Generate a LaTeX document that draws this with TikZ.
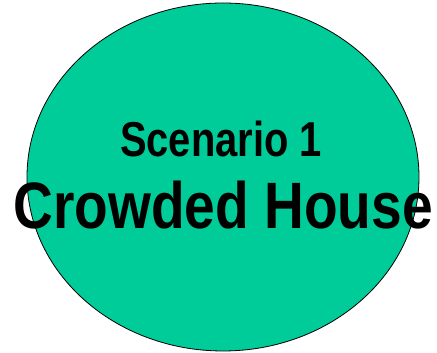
\documentclass[tikz,border=0pt]{standalone}
\usepackage{fontspec}
\setmainfont{Liberation Sans}
\usetikzlibrary{shapes.geometric}
\definecolor{scenario-green}{HTML}{00CC99}
\tikzset{
    scenario-oval/.style = {draw=black, fill=scenario-green, ellipse, line width=0.8pt, minimum width=392pt, minimum height=348pt, inner sep=0pt},
    scenario-title/.style = {anchor=base, inner sep=0pt, font=\bfseries\fontsize{49}{49}\selectfont, xscale=0.815},
    scenario-name/.style = {anchor=base, inner sep=0pt, font=\bfseries\fontsize{65.6}{65.6}\selectfont, xscale=0.84},
}
\begin{document}
\begin{tikzpicture}[x=1pt,y=1pt]
\useasboundingbox (0,0) rectangle (437,353);
\node [scenario-oval] (oval) at (223,176) {};
\node [scenario-title] (title) at (221,196) {Scenario 1};
\node [scenario-name] (name) at (223,124) {Crowded House};
\end{tikzpicture}
\end{document}
